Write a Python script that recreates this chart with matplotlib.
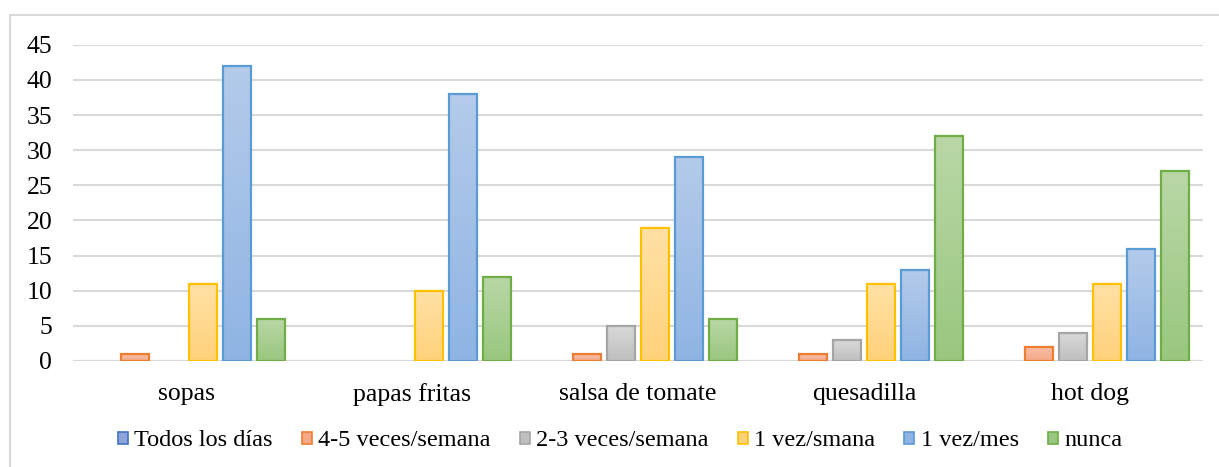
import matplotlib.pyplot as plt
import matplotlib.colors as mcolors
from matplotlib.patches import Patch
from matplotlib.lines import Line2D
import numpy as np

categories = ['sopas', 'papas fritas', 'salsa de tomate', 'quesadilla', 'hot dog']
series = ['Todos los días', '4-5 veces/semana', '2-3 veces/semana',
          '1 vez/smana', '1 vez/mes', 'nunca']
todos = [0, 0, 0, 0, 0]
cuatro_cinco = [1, 0, 1, 1, 2]
dos_tres = [0, 0, 5, 3, 4]
una_semana = [11, 10, 19, 11, 11]
una_mes = [42, 38, 29, 13, 16]
nunca = [6, 12, 6, 32, 27]
values = [todos, cuatro_cinco, dos_tres, una_semana, una_mes, nunca]

# edge colour, gradient top, gradient bottom
edges = ['#4472c4', '#ed7d31', '#a5a5a5', '#ffc000', '#5b9bd5', '#70ad47']
tops = ['#aebde8', '#f8c0a8', '#d9d9d9', '#ffe1a6', '#b4cbea', '#b9d7a6']
bottoms = ['#8ea5dc', '#f5a989', '#bfbfbf', '#ffd27a', '#8fb4e3', '#99c77f']

plt.rcParams['font.family'] = ['Liberation Serif', 'DejaVu Serif']
fs = 18.5

fig = plt.figure(figsize=(12.19, 4.67), dpi=100)
ax = fig.add_axes([0.060, 0.227, 0.927, 0.677])

# chart area border (only top and left visible, cut off at the image edge)
fig.lines.append(Line2D([10 / 1219, 10 / 1219, 1.0], [0, 1 - 15 / 467, 1 - 15 / 467],
                        transform=fig.transFigure, color='#d9d9d9', linewidth=1.5))

x = np.arange(len(categories))
step = 0.15
width = 0.124

for i, vals in enumerate(values):
    pos = x + (i - 2.5) * step
    bars = ax.bar(pos, vals, width, facecolor='none', edgecolor=edges[i],
                  linewidth=1.6, zorder=3)
    cmap = mcolors.LinearSegmentedColormap.from_list('g', [bottoms[i], tops[i]])
    for b, v in zip(bars, vals):
        if v == 0:
            b.set_visible(False)
            continue
        grad = np.linspace(0, 1, 100).reshape(-1, 1)
        im = ax.imshow(grad, cmap=cmap, origin='lower', aspect='auto',
                       extent=[b.get_x(), b.get_x() + b.get_width(), 0, v],
                       zorder=2)
        im.set_clip_path(b)

ax.set_xlim(-0.5, len(categories) - 0.5)
ax.set_ylim(0, 45)
ax.set_yticks(range(0, 46, 5))
ax.set_xticks(x)
ax.set_xticklabels(categories)
ax.tick_params(axis='both', length=0, labelsize=fs, colors='#000000')
ax.tick_params(axis='x', pad=16)
ax.tick_params(axis='y', pad=15)
ax.yaxis.grid(True, color='#d9d9d9', linewidth=1.5, zorder=0)
for s in ax.spines.values():
    s.set_visible(False)
ax.axhline(0, color='#d9d9d9', linewidth=1.5, zorder=1)

handles = [Patch(facecolor=bottoms[i], edgecolor=edges[i], linewidth=1.2, label=series[i])
           for i in range(len(series))]
fig.legend(handles=handles, loc='center', bbox_to_anchor=(620 / 1219, 1 - 441 / 467),
           ncol=6, frameon=False, fontsize=17.5, handlelength=0.42, handleheight=0.42,
           handletextpad=0.25, columnspacing=1.2)

fig.savefig('out.png', dpi=100)
